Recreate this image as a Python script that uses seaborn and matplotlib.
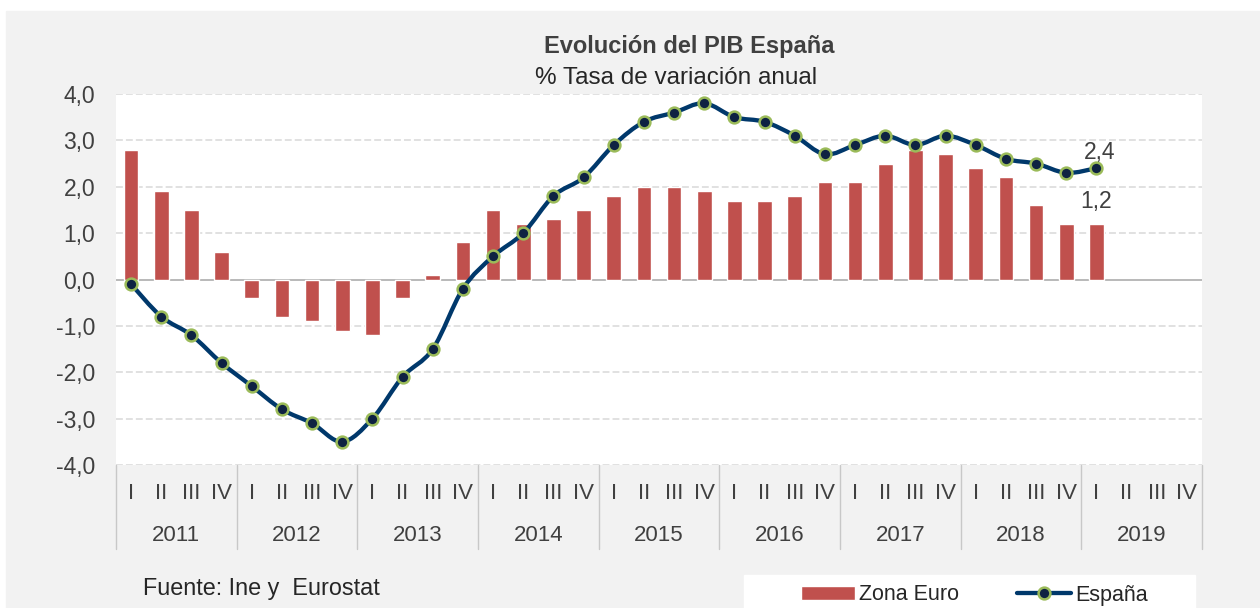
import numpy as np
import pandas as pd
import seaborn as sns
from matplotlib import pyplot as plt
from matplotlib.path import Path
from matplotlib.patches import PathPatch, Rectangle, Patch
from matplotlib.lines import Line2D
from matplotlib.transforms import blended_transform_factory

# data (% tasa de variacion anual)
years = ['2011', '2012', '2013', '2014', '2015', '2016', '2017', '2018', '2019']
quarters = ['I', 'II', 'III', 'IV']
zona_euro = [2.8, 1.9, 1.5, 0.6, -0.4, -0.8, -0.9, -1.1, -1.2, -0.4, 0.1, 0.8,
             1.5, 1.2, 1.3, 1.5, 1.8, 2.0, 2.0, 1.9, 1.7, 1.7, 1.8, 2.1,
             2.1, 2.5, 2.8, 2.7, 2.4, 2.2, 1.6, 1.2, 1.2]
espana = [-0.1, -0.8, -1.2, -1.8, -2.3, -2.8, -3.1, -3.5, -3.0, -2.1, -1.5, -0.2,
          0.5, 1.0, 1.8, 2.2, 2.9, 3.4, 3.6, 3.8, 3.5, 3.4, 3.1, 2.7,
          2.9, 3.1, 2.9, 3.1, 2.9, 2.6, 2.5, 2.3, 2.4]
y_ticks = [4, 3, 2, 1, 0, -1, -2, -3, -4]

RED = '#c0504d'
NAVY = '#00386b'
DOT = '#0e2242'
GREEN = '#9bbb59'
TXT = '#404040'


def smooth_path(xs, ys):
    # Excel-like smoothed line: catmull-rom segments as cubic beziers
    p = np.column_stack([xs, ys]).astype(float)
    n = len(p)
    verts = [p[0]]
    codes = [Path.MOVETO]
    for i in range(n - 1):
        p0 = p[max(i - 1, 0)]
        p3 = p[min(i + 2, n - 1)]
        c1 = p[i] + (p[i + 1] - p0) / 6
        c2 = p[i + 1] - (p3 - p[i]) / 6
        verts += [c1, c2, p[i + 1]]
        codes += [Path.CURVE4] * 3
    return Path(verts, codes)


def main():
    sns.set_theme(style='white')
    plt.rcParams['font.family'] = ['Liberation Sans', 'DejaVu Sans']

    ids = [y + '-' + q for y in years for q in quarters]
    df = pd.DataFrame({'periodo': ids[:len(zona_euro)],
                       'zona_euro': zona_euro,
                       'espana': espana})

    fig = plt.figure(figsize=(12.6, 6.08), dpi=100)
    fig.patch.set_facecolor('white')
    fig.patches.append(Rectangle((6 / 1260, 0), 1, 1 - 11 / 608,
                                 transform=fig.transFigure, color='#f2f2f2', zorder=-10))
    fig.patches.append(Rectangle((744 / 1260, 0), (1195 - 744) / 1260, 33 / 608,
                                 transform=fig.transFigure, color='white', zorder=-9))

    ax = fig.add_axes([116 / 1260, 1 - 465 / 608, (1202 - 116) / 1260, 371 / 608])
    ax.set_facecolor('white')

    sns.barplot(data=df, x='periodo', y='zona_euro', order=ids, color=RED,
                width=0.49, saturation=1, ax=ax, zorder=3)

    xs = np.arange(len(espana))
    ax.add_patch(PathPatch(smooth_path(xs, espana), facecolor='none', edgecolor=NAVY,
                           lw=3.1, capstyle='round', joinstyle='round', zorder=4))
    ax.plot(xs, espana, 'o', ms=8.5, mfc=DOT, mec=GREEN, mew=1.8, zorder=5)

    # grid
    for v in y_ticks:
        if v == 0:
            ax.axhline(0, color='#a6a6a6', lw=1.1, zorder=2)
        else:
            ax.axhline(v, color='#d9d9d9', lw=1.1, dashes=(4.5, 2), zorder=1)

    ax.set_xlim(-0.5, len(ids) - 0.5)
    ax.set_ylim(-4, 4)
    ax.set_yticks(y_ticks)
    ax.set_yticklabels(['{:.1f}'.format(v).replace('.', ',') for v in y_ticks],
                       fontsize=16.5, color=TXT)
    ax.tick_params(axis='y', length=0, pad=15)
    ax.set_xticks([])
    ax.set_xlabel('')
    ax.set_ylabel('')
    for s in ax.spines.values():
        s.set_visible(False)

    # two-level category axis
    tr = blended_transform_factory(ax.transData, ax.transAxes)
    for i, pid in enumerate(ids):
        q = pid.split('-')[1]
        ax.text(i, -0.0755, q, transform=tr, ha='center', va='center',
                fontsize=16, color=TXT)
    for j, y in enumerate(years):
        ax.text(j * 4 + 1.5, -0.1887, y, transform=tr, ha='center', va='center',
                fontsize=16, color=TXT)
    for j in range(len(years) + 1):
        ax.plot([j * 4 - 0.5] * 2, [0, -0.226], transform=tr, color='#c8c8c8',
                lw=1.0, clip_on=False)

    # last value labels
    ax.annotate('{:.1f}'.format(espana[-1]).replace('.', ','), (xs[-1], espana[-1]),
                xytext=(2, 3), textcoords='offset points', ha='center', va='bottom',
                fontsize=16.5, color=TXT)
    ax.annotate('{:.1f}'.format(zona_euro[-1]).replace('.', ','), (xs[-1], zona_euro[-1]),
                xytext=(0, 8), textcoords='offset points', ha='center', va='bottom',
                fontsize=16.5, color=TXT)

    fig.text(689.5 / 1260, 1 - 46 / 608, 'Evolución del PIB España', ha='center',
             va='center', fontsize=17, fontweight='bold', color=TXT)
    fig.text(676 / 1260, 1 - 78 / 608, '% Tasa de variación anual', ha='center',
             va='center', fontsize=17.5, color='#262626')
    fig.text(143 / 1260, 1 - 588 / 608, 'Fuente: Ine y  Eurostat', ha='left',
             va='center', fontsize=16.8, color='#262626')

    handles = [Patch(facecolor=RED),
               Line2D([], [], color=NAVY, lw=3.1, marker='o', ms=8.5, mfc=DOT,
                      mec=GREEN, mew=1.8)]
    fig.legend(handles, ['Zona Euro', 'España'], loc='center left',
               bbox_to_anchor=(801 / 1260, 1 - 595 / 608), ncol=2, frameon=False,
               fontsize=15.5, handlelength=2.5, handleheight=0.65, handletextpad=0.2,
               columnspacing=2.7, borderpad=0, borderaxespad=0, labelcolor='#262626')

    fig.savefig('out.png', dpi=100)


if __name__ == '__main__':
    main()
